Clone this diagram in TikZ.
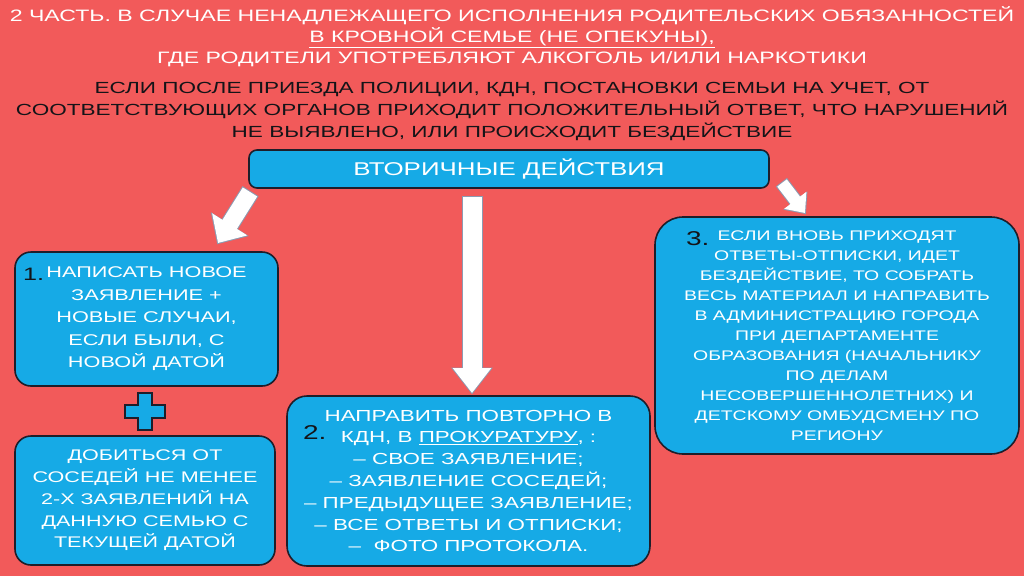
\documentclass[tikz,border=0pt]{standalone}
\usepackage{fontspec}
\setmainfont{Liberation Sans}[FakeStretch=1.4]
\definecolor{bgred}{RGB}{242,90,90}
\definecolor{boxblue}{RGB}{22,170,230}
\definecolor{boxline}{RGB}{30,30,42}
\definecolor{arrowedge}{RGB}{140,155,178}
\definecolor{textdark}{RGB}{20,20,24}
\usetikzlibrary{arrows.meta,positioning,calc}

\begin{document}
\begin{tikzpicture}[
  x=1pt,y=-1pt,
  every node/.style={inner sep=0pt,outer sep=0pt},
  actbox/.style={draw=boxline,fill=boxblue,line width=1.6pt,rounded corners=16pt,
                 align=center,text=white,font=\fontsize{15.5}{22.5}\selectfont},
  numlabel/.style={text=textdark,font=\fontsize{20}{20}\selectfont},
  headline/.style={align=center,text=white,font=\fontsize{16.5}{21}\selectfont},
  subline/.style={align=center,text=textdark,font=\fontsize{16.1}{22.3}\selectfont},
  plusmark/.style={draw=boxline,fill=boxblue,line width=1.5pt},
  bigarrow/.style n args={4}{draw=white,line width=#1,-{Triangle[length=#2,width=#3]},
    preaction={draw=arrowedge,line width=#4,shorten >=-1.5pt,shorten <=-1pt,
               -{Triangle[length=#2,width=#3,scale=1.08]}}},
]
  % background
  \fill[bgred] (0,0) rectangle (1024,576);
  \useasboundingbox (0,0) rectangle (1024,576);

  % heading
  \node[headline] (title) at (512,37) {%
    2 ЧАСТЬ. В СЛУЧАЕ НЕНАДЛЕЖАЩЕГО ИСПОЛНЕНИЯ РОДИТЕЛЬСКИХ ОБЯЗАННОСТЕЙ\\
    \underline{В КРОВНОЙ СЕМЬЕ (НЕ ОПЕКУНЫ),}\\
    ГДЕ РОДИТЕЛИ УПОТРЕБЛЯЮТ АЛКОГОЛЬ И/ИЛИ НАРКОТИКИ};
  \node[subline] (cond) at (512,111.5) {%
    ЕСЛИ ПОСЛЕ ПРИЕЗДА ПОЛИЦИИ, КДН, ПОСТАНОВКИ СЕМЬИ НА УЧЕТ, ОТ\\
    СООТВЕТСТВУЮЩИХ ОРГАНОВ ПРИХОДИТ ПОЛОЖИТЕЛЬНЫЙ ОТВЕТ, ЧТО НАРУШЕНИЙ\\
    НЕ ВЫЯВЛЕНО, ИЛИ ПРОИСХОДИТ БЕЗДЕЙСТВИЕ};

  % secondary actions
  \node[actbox,rounded corners=8pt,minimum width=520pt,minimum height=38pt,
        font=\fontsize{18.5}{18.5}\selectfont] (main) at (509,169) {ВТОРИЧНЫЕ ДЕЙСТВИЯ};

  % step 1
  \node[actbox,minimum width=263pt,minimum height=134pt] (step1) at (146.5,319) {%
    НАПИСАТЬ НОВОЕ\\ ЗАЯВЛЕНИЕ +\\ НОВЫЕ СЛУЧАИ,\\ ЕСЛИ БЫЛИ, С\\ НОВОЙ ДАТОЙ};
  \node[numlabel,font=\fontsize{18}{18}\selectfont,
        below right=16pt and 8pt of step1.north west] (num1) {1.};

  % plus
  \draw[plusmark] (138,393) -- (152,393) -- (152,405) -- (165,405) -- (165,418)
    -- (152,418) -- (152,430) -- (138,430) -- (138,418) -- (125,418) -- (125,405)
    -- (138,405) -- cycle;

  \node[actbox,minimum width=260pt,minimum height=129pt,
        font=\fontsize{15.4}{21.7}\selectfont] (neighbours) at (145,500.5) {%
    ДОБИТЬСЯ ОТ\\ СОСЕДЕЙ НЕ МЕНЕЕ\\ 2-Х ЗАЯВЛЕНИЙ НА\\ ДАННУЮ СЕМЬЮ С\\ ТЕКУЩЕЙ ДАТОЙ};

  % step 2
  \node[actbox,rounded corners=20pt,minimum width=363pt,minimum height=170pt,
        font=\fontsize{16}{21.8}\selectfont] (step2) at (468.5,481) {%
    НАПРАВИТЬ ПОВТОРНО В\\ КДН, В \underline{ПРОКУРАТУРУ}, :\\
    – СВОЕ ЗАЯВЛЕНИЕ;\\ – ЗАЯВЛЕНИЕ СОСЕДЕЙ;\\ – ПРЕДЫДУЩЕЕ ЗАЯВЛЕНИЕ;\\
    – ВСЕ ОТВЕТЫ И ОТПИСКИ;\\ –\ \ ФОТО ПРОТОКОЛА.};
  \node[numlabel,below right=30pt and 16pt of step2.north west] (num2) {2.};

  % step 3
  \node[actbox,rounded corners=28pt,minimum width=364pt,minimum height=237pt,
        font=\fontsize{13.9}{20}\selectfont] (step3) at (837,335.5) {%
    ЕСЛИ ВНОВЬ ПРИХОДЯТ\\ ОТВЕТЫ-ОТПИСКИ, ИДЕТ\\ БЕЗДЕЙСТВИЕ, ТО СОБРАТЬ\\
    ВЕСЬ МАТЕРИАЛ И НАПРАВИТЬ\\ В АДМИНИСТРАЦИЮ ГОРОДА\\ ПРИ ДЕПАРТАМЕНТЕ\\
    ОБРАЗОВАНИЯ (НАЧАЛЬНИКУ\\ ПО ДЕЛАМ\\ НЕСОВЕРШЕННОЛЕТНИХ) И\\
    ДЕТСКОМУ ОМБУДСМЕНУ ПО\\ РЕГИОНУ};
  \node[numlabel,below right=15pt and 31pt of step3.north west] (num3) {3.};

  % arrows
  \draw[bigarrow={17pt}{22pt}{40pt}{19pt}]
    ($(main.south west)+(1,4)$) -- ($(step1.north east)+(-60,-9)$);
  \draw[bigarrow={19pt}{25pt}{37pt}{21pt}]
    ($(main.south -| step2.north)+(3.5,9)$) -- ($(step2.north)+(3.5,-3)$);
  \draw[bigarrow={12pt}{16pt}{27pt}{14pt}]
    ($(main.south east)+(13,-5)$) -- ($(step3.north)+(-32,-4)$);
\end{tikzpicture}
\end{document}
